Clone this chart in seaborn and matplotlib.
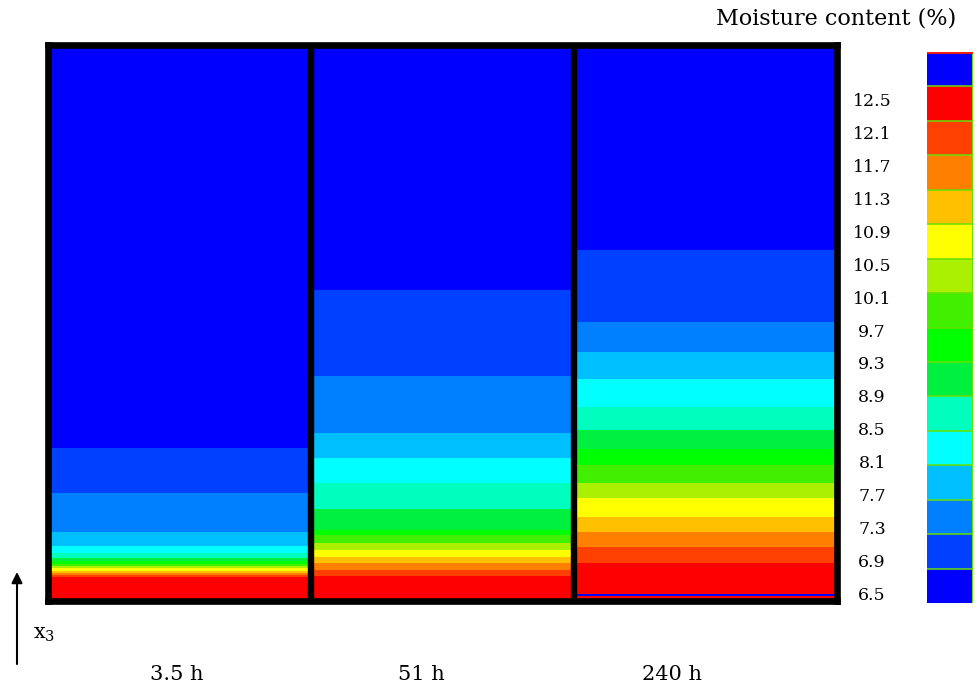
import numpy as np
import pandas as pd
import matplotlib
matplotlib.use("Agg")
import matplotlib.pyplot as plt
from matplotlib.colors import ListedColormap, BoundaryNorm
import seaborn as sns

# ---------------- data ----------------
time_labels = ["3.5 h", "51 h", "240 h"]

# colour-bar classes (moisture content, %), bottom -> top
moisture_levels = [6.5, 6.9, 7.3, 7.7, 8.1, 8.5, 8.9, 9.3, 9.7, 10.1,
                   10.5, 10.9, 11.3, 11.7, 12.1, 12.5]
level_colors = ["#0000FF", "#0040FF", "#0080FF", "#00BFFF", "#00FFFF",
                "#00FFBF", "#00F040", "#00FF00", "#40F000", "#AAF000",
                "#FFFF00", "#FFC000", "#FF8000", "#FF4000", "#FF0000",
                "#0000FF"]

# moisture class of each band inside the specimen, from the bottom surface up
band_values = [12.1, 11.7, 11.3, 10.9, 10.5, 10.1, 9.7, 9.3, 8.9, 8.5,
               8.1, 7.7, 7.3, 6.9]
core_value = 6.5   # value above the last band

# relative height (0 = bottom face, 1 = top face) where each band ends
band_tops_3_5h = [0.041, 0.045, 0.049, 0.052, 0.058, 0.061, 0.065, 0.070,
                  0.076, 0.085, 0.097, 0.123, 0.193, 0.274]
band_tops_51h = [0.043, 0.054, 0.067, 0.078, 0.090, 0.103, 0.117, 0.126,
                 0.164, 0.211, 0.256, 0.301, 0.404, 0.559]
band_tops_240h = [0.067, 0.096, 0.123, 0.150, 0.184, 0.211, 0.243, 0.272,
                  0.306, 0.348, 0.398, 0.447, 0.501, 0.631]
# thin dry film near the bottom face at 240 h (start, end height)
film_240h = [0.007, 0.011]

# ---------------- build grid ----------------
n_rows = 1110
heights = 1.0 - (np.arange(n_rows) + 0.5) / n_rows   # top row first


def profile(tops, film=None):
    idx = np.searchsorted(np.asarray(tops), heights, side="right")
    vals = np.array(band_values + [core_value])[idx]
    if film is not None:
        vals[(heights >= film[0]) & (heights < film[1])] = core_value
    return vals


grid = pd.DataFrame({
    time_labels[0]: profile(band_tops_3_5h),
    time_labels[1]: profile(band_tops_51h),
    time_labels[2]: profile(band_tops_240h, film_240h),
})

cmap = ListedColormap(level_colors)
bounds = np.concatenate([[moisture_levels[0] - 0.2],
                         np.array(moisture_levels) + 0.2])
norm = BoundaryNorm(bounds, cmap.N)

# ---------------- figure ----------------
W, H = 976, 696
fig = plt.figure(figsize=(W / 100, H / 100), dpi=100)
fig.patch.set_facecolor("white")
serif = ["DejaVu Serif"]
plt.rcParams["mathtext.fontset"] = "dejavuserif"


def rect(x0, y0, x1, y1):
    return [x0 / W, 1 - y1 / H, (x1 - x0) / W, (y1 - y0) / H]


ax = fig.add_axes(rect(47.5, 45, 836.5, 600.5))
sns.heatmap(grid, ax=ax, cmap=cmap, norm=norm, cbar=False,
            xticklabels=False, yticklabels=False)
ax.set_xlabel("")
ax.set_ylabel("")
for s in ax.spines.values():
    s.set_visible(True)
    s.set_color("black")
    s.set_linewidth(4.8)
for xv in (1, 2):
    ax.axvline(xv, color="black", lw=4.6)

# colour bar
cax = fig.add_axes(rect(927, 52, 973, 603))
cb_data = pd.DataFrame({"mc": moisture_levels[::-1]})
sns.heatmap(cb_data, ax=cax, cmap=cmap, norm=norm, cbar=False,
            xticklabels=False, yticklabels=False)
for yv in range(1, len(moisture_levels)):
    cax.axhline(yv, color="#66E000", lw=1.1)
cax.axvline(1, color="#66E000", lw=1.5)
cax.axhline(0, color="#FF2000", lw=2.0)
for s in cax.spines.values():
    s.set_visible(False)
tick_pos = np.linspace(1.39, 15.71, len(moisture_levels))
cax.set_yticks(tick_pos)
cax.set_yticklabels([f"{v}" for v in moisture_levels[::-1]],
                    family=serif, fontsize=12.5)
cax.tick_params(axis="y", length=0, pad=39.5, left=True, labelleft=True)
for lbl in cax.get_yticklabels():
    lbl.set_horizontalalignment("center")
cax.set_xlabel("")
cax.set_ylabel("")

# texts
fig.text(836 / W, 1 - 18 / H, "Moisture content (%)", ha="center",
         va="center", family=serif, fontsize=16)
for lab, xp in zip(time_labels, [177, 421, 672]):
    fig.text(xp / W, 1 - 675 / H, lab, ha="center", va="center",
             family=serif, fontsize=15)
fig.text(44 / W, 1 - 635 / H, r"x$_3$", ha="center", va="center",
         family=serif, fontsize=15)
ax.annotate("", xy=(17, H - 572), xycoords="figure pixels",
            xytext=(17, H - 664), textcoords="figure pixels",
            arrowprops=dict(arrowstyle="-|>", color="black", lw=1.5,
                            mutation_scale=16, shrinkA=0, shrinkB=0))

fig.savefig("out.png", dpi=100, facecolor="white")
